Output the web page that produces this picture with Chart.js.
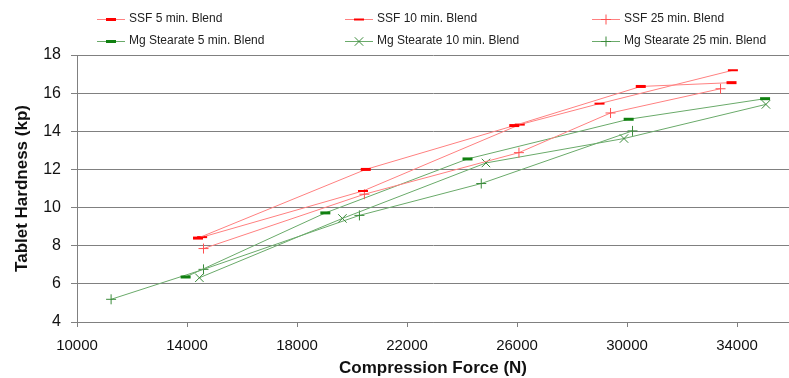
<!DOCTYPE html>
<html lang="en">
<head>
    <meta charset="UTF-8">
    <title>Tablet Hardness vs Compression Force</title>
    <script src="https://cdn.jsdelivr.net/npm/chart.js"></script>
    <style>
        body { margin: 0; background: #fff; }
        #wrap { width: 789px; height: 378px; }
    </style>
</head>
<body>
    <div id="wrap"><canvas id="myChart" width="789" height="378"></canvas></div>
    <script>
        // series data
        const seriesNames = ['SSF 5 min. Blend', 'SSF 10 min. Blend', 'SSF 25 min. Blend',
                             'Mg Stearate 5 min. Blend', 'Mg Stearate 10 min. Blend', 'Mg Stearate 25 min. Blend'];

        const ssf5X = [14400, 20500, 25900, 30500, 33800];
        const ssf5Y = [8.4, 12.0, 14.3, 16.35, 16.55];
        const ssf10X = [14550, 20400, 26100, 29000, 33850];
        const ssf10Y = [8.45, 10.87, 14.35, 15.45, 17.2];
        const ssf25X = [14600, 20450, 26070, 29400, 33400];
        const ssf25Y = [7.85, 10.7, 12.88, 14.96, 16.23];

        const mg5X = [13950, 19030, 24200, 30060, 35020];
        const mg5Y = [6.36, 9.72, 12.55, 14.63, 15.71];
        const mg10X = [14450, 19650, 24870, 29890, 35050];
        const mg10Y = [6.32, 9.43, 12.34, 13.62, 15.41];
        const mg25X = [11240, 14600, 20270, 24700, 30200];
        const mg25Y = [5.19, 6.76, 9.59, 11.26, 14.02];

        const xTicks = [10000, 14000, 18000, 22000, 26000, 30000, 34000];
        const yTicks = [4, 6, 8, 10, 12, 14, 16, 18];

        const toPoints = (xs, ys) => xs.map((x, i) => ({ x: x, y: ys[i] }));

        function series(label, xs, ys, lineColor, markColor, style, r, bw) {
            return {
                label: label,
                data: toPoints(xs, ys),
                showLine: true,
                borderColor: lineColor,
                borderWidth: 1,
                pointStyle: style,
                pointRadius: r,
                pointBorderColor: markColor,
                pointBackgroundColor: markColor,
                pointBorderWidth: bw
            };
        }

        const datasets = [
            series(seriesNames[0], ssf5X, ssf5Y, '#ff8080', '#ff0000', 'line', 5, 3),
            series(seriesNames[1], ssf10X, ssf10Y, '#ff8080', '#ff0000', 'line', 5, 2),
            series(seriesNames[2], ssf25X, ssf25Y, '#ff8080', '#ff5050', 'cross', 5, 1),
            series(seriesNames[3], mg5X, mg5Y, '#6aaa6a', '#108010', 'line', 5, 3),
            series(seriesNames[4], mg10X, mg10Y, '#6aaa6a', '#3a8a3a', 'crossRot', 6, 1),
            series(seriesNames[5], mg25X, mg25Y, '#6aaa6a', '#3a8a3a', 'cross', 5, 1)
        ];

        // legend in three columns, two rows above the plot
        const legendCols = [97, 345, 592];
        const legendRows = [19, 41];

        function drawMark(ctx, ds, x, y) {
            const r = ds.pointRadius;
            ctx.save();
            ctx.strokeStyle = ds.pointBorderColor;
            ctx.lineWidth = ds.pointBorderWidth;
            ctx.beginPath();
            if (ds.pointStyle === 'line') {
                ctx.moveTo(x - r, y); ctx.lineTo(x + r, y);
            } else if (ds.pointStyle === 'cross') {
                ctx.moveTo(x - r, y); ctx.lineTo(x + r, y);
                ctx.moveTo(x, y - r); ctx.lineTo(x, y + r);
            } else {
                const d = r * 0.7071;
                ctx.moveTo(x - d, y - d); ctx.lineTo(x + d, y + d);
                ctx.moveTo(x - d, y + d); ctx.lineTo(x + d, y - d);
            }
            ctx.stroke();
            ctx.restore();
        }

        const gridLegend = {
            id: 'gridLegend',
            afterDraw(chart) {
                const ctx = chart.ctx;
                chart.data.datasets.forEach((ds, i) => {
                    const x0 = legendCols[i % 3];
                    const y0 = legendRows[Math.floor(i / 3)];
                    ctx.save();
                    ctx.strokeStyle = ds.borderColor;
                    ctx.lineWidth = 1;
                    ctx.beginPath();
                    ctx.moveTo(x0, y0 + 0.5);
                    ctx.lineTo(x0 + 28, y0 + 0.5);
                    ctx.stroke();
                    drawMark(ctx, ds, x0 + 14, y0 + 0.5);
                    ctx.fillStyle = '#222';
                    ctx.font = '12px "Liberation Sans", Arial, sans-serif';
                    ctx.textBaseline = 'middle';
                    ctx.fillText(ds.label, x0 + 32, y0);
                    ctx.restore();
                });
            }
        };

        const ctx = document.getElementById('myChart').getContext('2d');
        new Chart(ctx, {
            type: 'scatter',
            data: { datasets: datasets },
            plugins: [gridLegend],
            options: {
                responsive: false,
                animation: false,
                layout: { autoPadding: false, padding: { top: 55, right: 0, left: 0, bottom: 0 } },
                plugins: {
                    legend: { display: false },
                    tooltip: { enabled: false }
                },
                scales: {
                    x: {
                        type: 'linear',
                        min: 10000,
                        max: 35890,
                        afterBuildTicks: axis => { axis.ticks = xTicks.map(v => ({ value: v })); },
                        afterFit: axis => { axis.height = 56; },
                        grid: { drawOnChartArea: false, drawTicks: true, tickLength: 5, color: '#808080' },
                        border: { color: '#808080' },
                        ticks: {
                            color: '#111',
                            padding: 10,
                            maxRotation: 0,
                            callback: v => String(v),
                            font: { family: '"Liberation Sans", Arial, sans-serif', size: 15 }
                        },
                        title: {
                            display: true,
                            text: 'Compression Force (N)',
                            color: '#111',
                            padding: { top: 0, bottom: -1 },
                            font: { family: '"Liberation Sans", Arial, sans-serif', size: 17, weight: 'bold' }
                        }
                    },
                    y: {
                        min: 4,
                        max: 18,
                        afterBuildTicks: axis => { axis.ticks = yTicks.map(v => ({ value: v })); },
                        afterFit: axis => { axis.width = 77; },
                        grid: { color: '#808080', lineWidth: 1, tickLength: 6 },
                        border: { color: '#808080' },
                        ticks: {
                            color: '#111',
                            padding: 10,
                            font: { family: '"Liberation Sans", Arial, sans-serif', size: 16 }
                        },
                        title: {
                            display: true,
                            text: 'Tablet Hardness (kp)',
                            color: '#111',
                            padding: { top: 12, bottom: 0 },
                            font: { family: '"Liberation Sans", Arial, sans-serif', size: 17, weight: 'bold' }
                        }
                    }
                }
            }
        });
    </script>
</body>
</html>
